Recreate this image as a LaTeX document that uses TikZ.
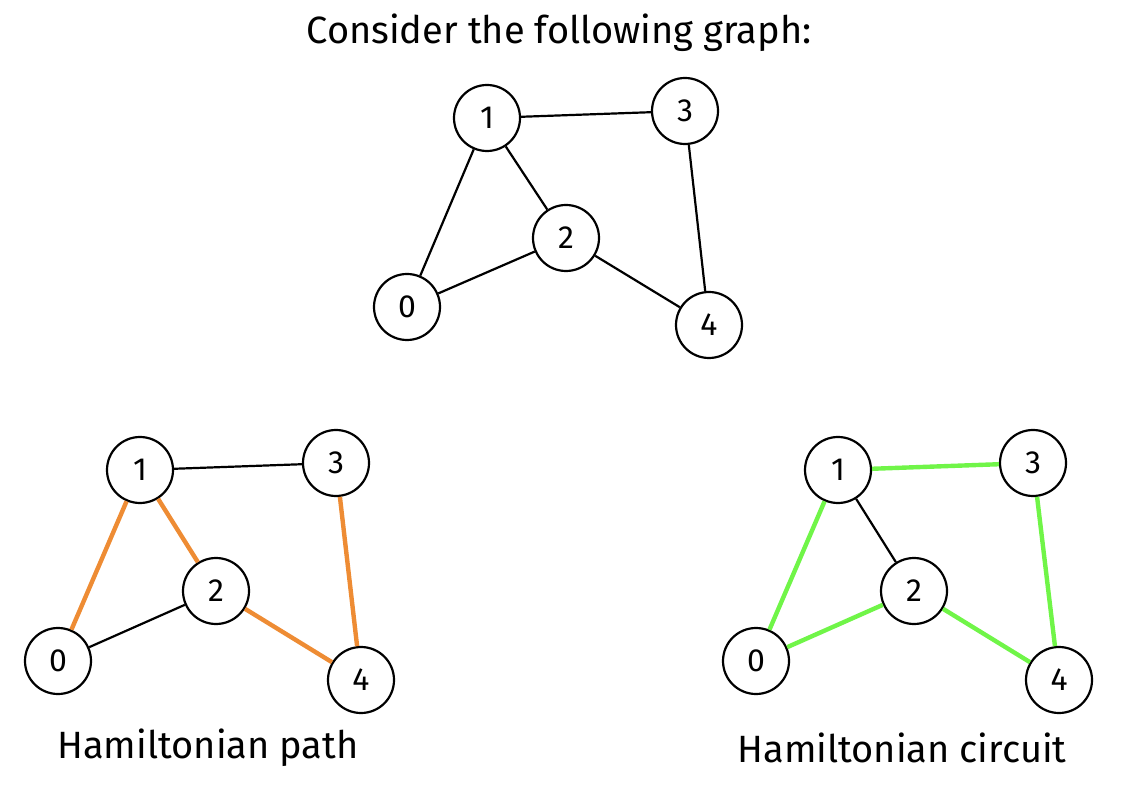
\documentclass[tikz,border=0pt]{standalone}
\usepackage{fontspec}
\setmainfont{Fira Sans}
\definecolor{pathorange}{RGB}{238,140,52}
\definecolor{circgreen}{RGB}{112,245,72}
\begin{document}
\begin{tikzpicture}[
    x=0.5pt, y=-0.5pt,
    vertex/.style={circle, draw, line width=1.1pt, minimum size=33pt, inner sep=0pt, font=\fontsize{16}{19}\selectfont},
    edge/.style={line width=1.1pt},
    hpath/.style={line width=2.2pt, pathorange},
    hcirc/.style={line width=2.2pt, circgreen},
    caption/.style={font=\fontsize{19}{23}\selectfont}
]
\useasboundingbox (0,0) rectangle (1123,790);

\node[caption] (title) at (559,33) {Consider the following graph:};

% Graphe de départ
\node[vertex] (t1) at (487,118) {1};
\node[vertex] (t3) at (685,111) {3};
\node[vertex] (t2) at (566,238) {2};
\node[vertex] (t0) at (407,307) {0};
\node[vertex] (t4) at (709,325) {4};
\draw[edge] (t1) -- (t3);
\draw[edge] (t1) -- (t2);
\draw[edge] (t1) -- (t0);
\draw[edge] (t0) -- (t2);
\draw[edge] (t2) -- (t4);
\draw[edge] (t3) -- (t4);

% Chemin hamiltonien
\node[vertex] (p1) at (140,470) {1};
\node[vertex] (p3) at (336,463) {3};
\node[vertex] (p2) at (216,591) {2};
\node[vertex] (p0) at (58,661) {0};
\node[vertex] (p4) at (361,680) {4};
\draw[edge] (p1) -- (p3);
\draw[edge] (p0) -- (p2);
\draw[hpath] (p0) -- (p1);
\draw[hpath] (p1) -- (p2);
\draw[hpath] (p2) -- (p4);
\draw[hpath] (p4) -- (p3);
\node[caption] (plabel) at (208,748) {Hamiltonian path};

% Circuit hamiltonien
\node[vertex] (c1) at (838,470) {1};
\node[vertex] (c3) at (1033,463) {3};
\node[vertex] (c2) at (914,591) {2};
\node[vertex] (c0) at (756,661) {0};
\node[vertex] (c4) at (1059,680) {4};
\draw[edge] (c1) -- (c2);
\draw[hcirc] (c1) -- (c3);
\draw[hcirc] (c3) -- (c4);
\draw[hcirc] (c4) -- (c2);
\draw[hcirc] (c2) -- (c0);
\draw[hcirc] (c0) -- (c1);
\node[caption] (clabel) at (902,748) {Hamiltonian circuit};

\end{tikzpicture}
\end{document}
